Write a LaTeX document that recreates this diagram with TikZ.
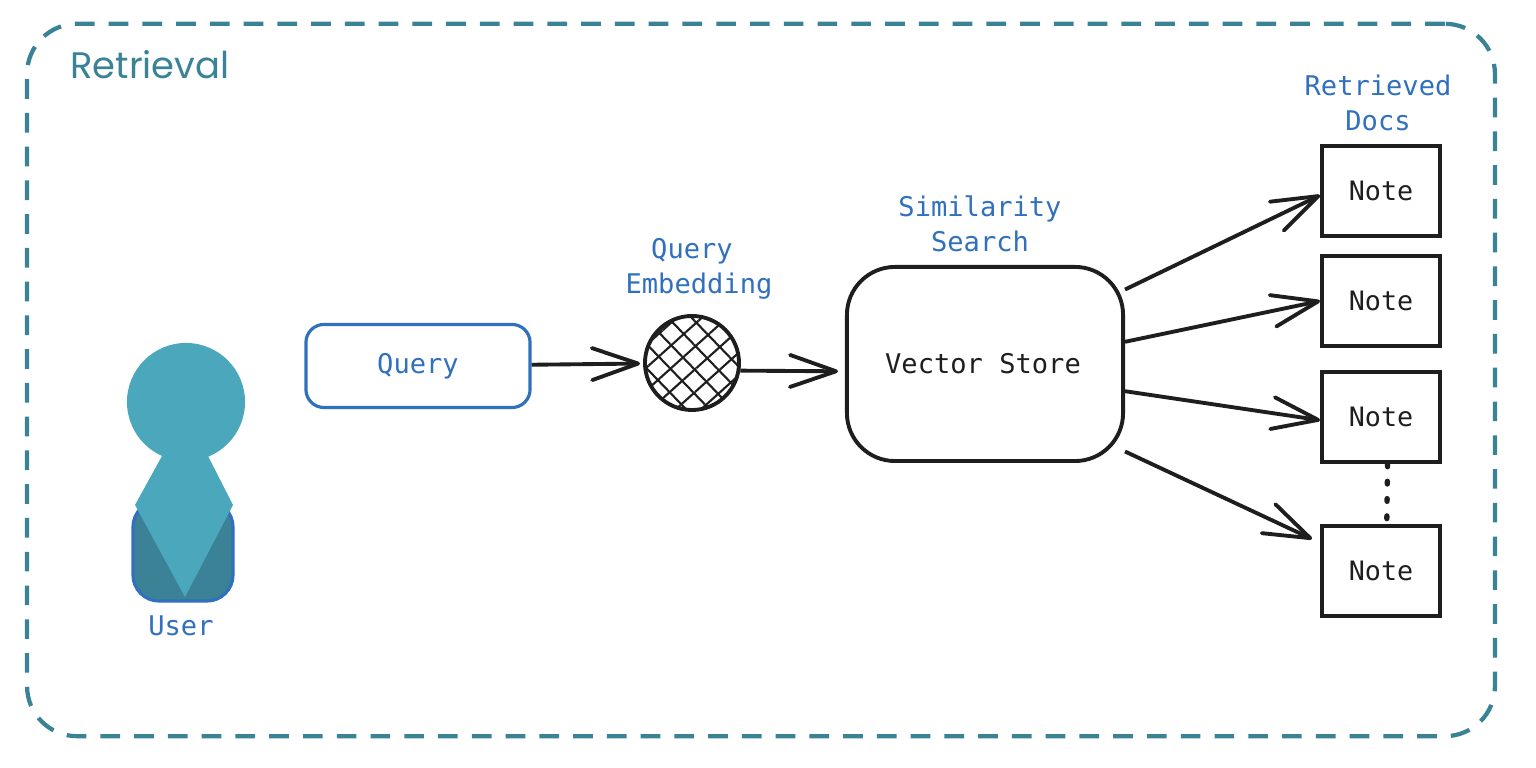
\documentclass[tikz,border=0pt]{standalone}
\usepackage{fontspec}
\setmonofont{DejaVu Sans Mono}
\setsansfont{Poppins}
\usetikzlibrary{arrows.meta,patterns.meta}

\definecolor{framecolor}{HTML}{3A8296}
\definecolor{headcolor}{HTML}{4BA8BC}
\definecolor{bodycolor}{HTML}{3B8297}
\definecolor{bluecolor}{HTML}{3070BD}
\definecolor{inkcolor}{HTML}{1E1E1E}

\tikzset{
	arrow/.style={draw=inkcolor, line width=1.1pt, -{Straight Barb[length=4.6mm,width=3.2mm,round]}},
	note/.style={draw=inkcolor, line width=1.1pt, rectangle, minimum width=1.18cm, minimum height=0.9cm, inner sep=0pt, font=\ttfamily\fontsize{7.6}{9}\selectfont, text=inkcolor},
	caption/.style={align=center, text=bluecolor, inner sep=0pt, font=\ttfamily\fontsize{7.7}{10}\selectfont}
}

\begin{document}
\begin{tikzpicture}[x=0.01cm, y=-0.01cm]
	\useasboundingbox (0,0) rectangle (1536,768);

	\node[draw=framecolor, line width=1.2pt, dash pattern=on 5.6pt off 4pt, rounded corners=0.5cm, rectangle, minimum width=14.67cm, minimum height=7.12cm] (frame) at (761,380) {};
	\node[text=framecolor, inner sep=0pt, font=\sffamily\fontsize{10.5}{12}\selectfont] (title) at (150,65) {Retrieval};

	\node[fill=bodycolor, draw=bluecolor, line width=0.9pt, rectangle, rounded corners=0.26cm, minimum width=1cm, minimum height=1cm] (body) at (183,551) {};
	\node[fill=headcolor, circle, minimum size=1.18cm, inner sep=0pt] (head) at (186,402) {};
	\fill[headcolor] (162,456) -- (208,456) -- (233,505) -- (185,597) -- (135,505) -- cycle;
	\node[caption] (user) at (181,626) {User};

	\node[draw=bluecolor, line width=0.9pt, rectangle, rounded corners=0.18cm, minimum width=2.24cm, minimum height=0.83cm, caption] (query) at (418,366) {Query};
	\node[draw=inkcolor, line width=1.1pt, circle, minimum size=0.94cm, inner sep=0pt,
		preaction={pattern={Lines[angle=42,distance=4.8pt,line width=0.6pt]}, pattern color=inkcolor},
		postaction={pattern={Lines[angle=-46,distance=4.8pt,line width=0.6pt]}, pattern color=inkcolor}] (embed) at (692,363) {};
	\node[caption] (embedlabel) at (699,269) {Query\rule{0.14cm}{0pt}\\Embedding};

	\node[draw=inkcolor, line width=1.1pt, rectangle, rounded corners=0.48cm, minimum width=2.76cm, minimum height=1.94cm, text=inkcolor] (store) at (985,364) {};
	\node[inner sep=0pt, font=\ttfamily\fontsize{7.7}{9}\selectfont, text=inkcolor] (storetext) at (983,364) {Vector Store};
	\node[caption] (storelabel) at (980,224) {Similarity\\Search};

	\node[note] (note1) at (1381,191) {Note};
	\node[note] (note2) at (1381,301) {Note};
	\node[note] (note3) at (1381,417) {Note};
	\node[note] (note4) at (1381,571) {Note};
	\node[caption] (noteslabel) at (1378,103) {Retrieved\\Docs};

	\coordinate (end4) at (1312,539);

	\path[every edge/.style={arrow}]
		(query) edge[shorten >=0.03cm] (embed)
		(embed.-9) edge[shorten >=0.07cm] (store.183)
		(store.28) edge (note1.-176)
		(store.9) edge (note2.180)
		(store.-11) edge (note3.-177)
		(store.-32) edge (end4)
	;
	\draw[inkcolor, line width=1.5pt, line cap=round, dash pattern=on 0.8pt off 4.12pt] (note3.-82) -- (note4.83);
\end{tikzpicture}
\end{document}
